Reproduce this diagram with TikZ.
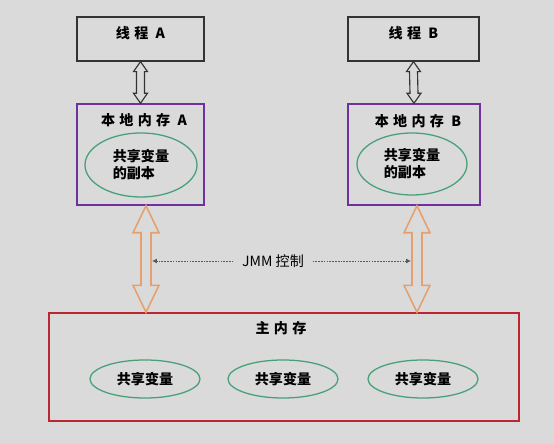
\documentclass[tikz,border=0pt]{standalone}
\usepackage{fontspec}
\setmainfont{Noto Sans CJK SC}
\newfontfamily\ttlfont[LetterSpace=30]{Noto Sans CJK SC}
\usepackage{tikz}
\usetikzlibrary{arrows.meta,shapes.geometric,calc}
\definecolor{bgc}{RGB}{218,218,218}
\definecolor{memred}{RGB}{185,40,50}
\definecolor{locpurple}{RGB}{112,48,160}
\definecolor{vargreen}{RGB}{70,160,120}
\definecolor{jmmorange}{RGB}{228,160,110}
\tikzset{
  thread/.style={draw=black!80,line width=0.9pt,minimum height=1.1cm,inner sep=0pt,
                 font=\ttlfont\bfseries,text depth=9pt},
  local/.style={draw=locpurple,line width=0.9pt,minimum height=2.53cm,inner sep=0pt},
  mainmem/.style={draw=memred,line width=1pt,minimum width=11.75cm,minimum height=2.7cm,inner sep=0pt},
  ttl/.style={font=\ttlfont\bfseries,inner sep=1pt},
  var/.style={draw=vargreen,ellipse,line width=0.9pt,inner sep=0pt,font=\bfseries},
  fat/.style={draw=black!80,line width=0.8pt},
  fatorange/.style={draw=jmmorange,line width=1.1pt},
  dotarr/.style={-{Latex[length=3.5pt,width=3.5pt]},draw=black!65,dash pattern=on 1.2pt off 0.8pt,line width=0.6pt},
  lbl/.style={inner xsep=6pt,font=\fontsize{10}{12}\selectfont}
}
% #1 style, #2 top, #3 bottom, #4 half shaft, #5 half head, #6 head length
\newcommand{\biarrow}[6]{%
  \draw[#1] (#2) -- ++(#5,#6) -- ++(-#5+#4,0) -- ($(#3)+(#4,-#6)$) -- ++(#5-#4,0) -- (#3)
    -- ++(-#5,-#6) -- ++(#5-#4,0) -- ($(#2)+(-#4,#6)$) -- ++(-#5+#4,0) -- cycle;}

\begin{document}
\begin{tikzpicture}[x=0.025cm,y=-0.025cm,font=\fontsize{10}{14}\selectfont]
  \fill[bgc] (0,0) rectangle (554,444);
  \useasboundingbox (0,0) rectangle (554,444);

  % threads
  \node[thread,minimum width=3.18cm] (ta) at (140.5,39) {线程 A};
  \node[thread,minimum width=3.28cm] (tb) at (413.5,39) {线程 B};

  % local memory
  \node[local,minimum width=3.18cm] (la) at (140.5,154.5) {};
  \node[local,minimum width=3.3cm]  (lb) at (414,154.5) {};
  \node[ttl] (lat) at (144,120) {本地内存 A};
  \node[ttl] (lbt) at (418,121) {本地内存 B};
  \node[var,minimum width=2.8cm,minimum height=1.6cm,align=left]  (ca) at (141,165) {共享变量\\的副本};
  \node[var,minimum width=2.75cm,minimum height=1.55cm,align=left] (cb) at (412,164) {共享变量\\的副本};

  % main memory
  \node[mainmem] (mm) at (284,367) {};
  \node[ttl] (mmt) at (281,328) {主内存};
  \node[var,minimum width=2.75cm,minimum height=0.95cm] (v1) at (145,379) {共享变量};
  \node[var,minimum width=2.75cm,minimum height=0.95cm] (v2) at (283,379) {共享变量};
  \node[var,minimum width=2.75cm,minimum height=0.95cm] (v3) at (423,379) {共享变量};

  % thread <-> local
  \biarrow{fat}{ta.south}{la.north}{4}{7}{10}
  \biarrow{fat}{tb.south}{lb.north}{4}{7}{10}

  % local <-> main
  \coordinate (oa) at ($(la.south)+(5.5,0)$);
  \coordinate (ob) at ($(lb.south)+(3,0)$);
  \biarrow{fatorange}{oa}{oa |- mm.north}{5}{13}{27}
  \biarrow{fatorange}{ob}{ob |- mm.north}{5}{13}{27}

  % JMM
  \node[lbl] (jmm) at (273,261) {JMM 控制};
  \coordinate (jl) at (152,261);
  \coordinate (jr) at (411,261);
  \draw[dotarr] (jmm) -- (jl);
  \draw[dotarr] (jmm) -- (jr);
\end{tikzpicture}
\end{document}
